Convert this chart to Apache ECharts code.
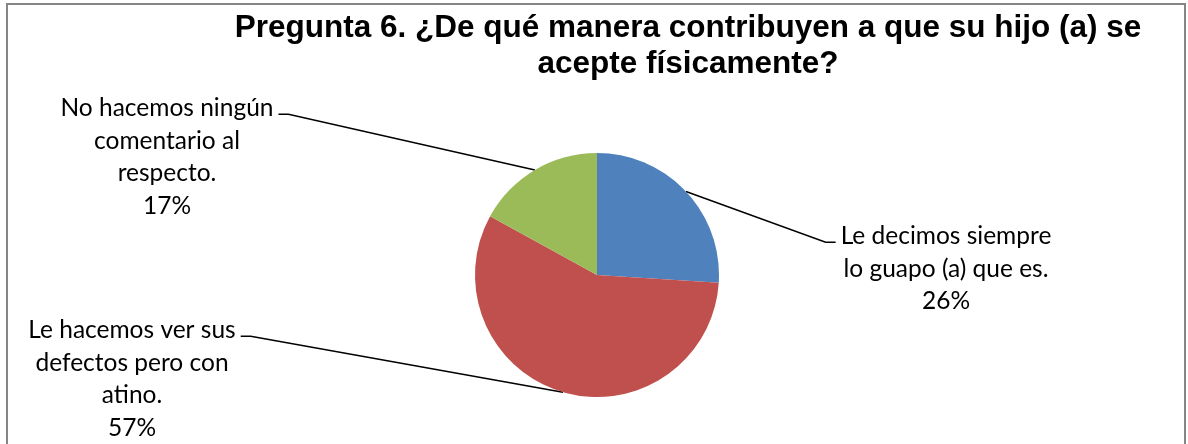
<!DOCTYPE html>
<html>
<head>
<meta charset="utf-8">
<script src="https://cdn.jsdelivr.net/npm/echarts@6/dist/echarts.min.js"></script>
<style>
  html, body { margin: 0; padding: 0; background: #fff; }
  #chart { width: 1188px; height: 444px; }
</style>
</head>
<body>
<div id="chart"></div>
<script>
// datos del grafico
const titleText = 'Pregunta 6. ¿De qué manera contribuyen a que su hijo (a) se\nacepte físicamente?'
const categories = [
    'Le decimos siempre\nlo guapo (a) que es.',
    'Le hacemos ver sus\ndefectos pero con\natino.',
    'No hacemos ningún\ncomentario al\nrespecto.'
]
const values = [26, 57, 17]
const colors = ['#4F81BD', '#C0504D', '#9BBB59']

// posicion de cada etiqueta (centro x, borde superior y, lado)
const labelPos = [
    { x: 946, y: 220, side: 'right' },
    { x: 132, y: 314, side: 'left' },
    { x: 167, y: 92, side: 'left' }
]
const LINE_H = 32.5

const chartInstance = echarts.init(document.getElementById('chart'))
const option = {
    animation: false,
    graphic: [
        {
            type: 'rect',
            silent: true,
            shape: { x: 7, y: 4, width: 1178, height: 470 },
            style: { fill: 'none', stroke: '#868686', lineWidth: 2 }
        },
        {
            type: 'text',
            x: 688,
            y: 10,
            style: {
                text: titleText,
                align: 'center',
                verticalAlign: 'top',
                fontFamily: '"Liberation Sans", Arial, sans-serif',
                fontWeight: 'bold',
                fontSize: 31.5,
                lineHeight: 36,
                fill: '#000'
            }
        }
    ],
    series: [
        {
            type: 'pie',
            center: [597, 275],
            radius: 122,
            startAngle: 90,
            clockwise: true,
            avoidLabelOverlap: false,
            emphasis: { disabled: true },
            itemStyle: { borderWidth: 0 },
            label: {
                show: true,
                position: 'outside',
                formatter: '{b}\n{d}%',
                fontFamily: 'Lato, "Open Sans", sans-serif',
                fontSize: 24.5,
                lineHeight: LINE_H,
                color: '#000',
                align: 'center'
            },
            labelLine: {
                show: true,
                length: 20,
                length2: 10,
                lineStyle: { color: '#000', width: 1.5 }
            },
            labelLayout: (p) => {
                const pos = labelPos[p.dataIndex]
                const w = p.labelRect.width
                const lineY = pos.y + LINE_H / 2 + 6
                const edge = pos.side === 'right' ? pos.x - w / 2 - 5 : pos.x + w / 2 + 5
                const knee = pos.side === 'right' ? edge - 10 : edge + 10
                const res = { x: pos.x, y: pos.y, align: 'center', verticalAlign: 'top' }
                if (p.labelLinePoints && p.labelLinePoints[0]) {
                    res.labelLinePoints = [p.labelLinePoints[0], [knee, lineY], [edge, lineY]]
                }
                return res
            },
            data: categories.map((name, i) => ({
                name: name,
                value: values[i],
                itemStyle: { color: colors[i] }
            }))
        }
    ]
}
chartInstance.setOption(option)
</script>
</body>
</html>
